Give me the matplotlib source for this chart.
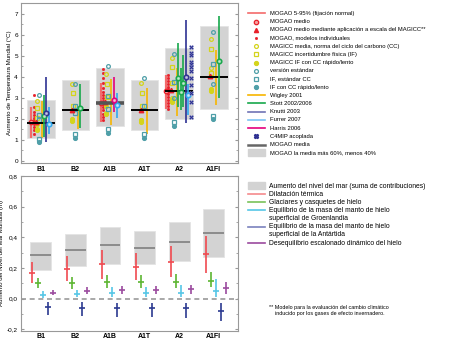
import numpy as np
import matplotlib
matplotlib.use("Agg")
import matplotlib.pyplot as plt
from matplotlib.ticker import MultipleLocator, FuncFormatter

plt.rcParams['font.family'] = ['Liberation Sans', 'DejaVu Sans']

# ---------------- datos: temperatura ----------------
scen = ['B1', 'B2', 'A1B', 'A1T', 'A2', 'A1FI']
box_lo = [1.1, 1.45, 1.65, 1.45, 2.0, 2.45]
box_hi = [2.9, 3.84, 4.4, 3.84, 5.35, 6.4]
mogao_mean = [1.8, 2.4, 2.75, 2.4, 3.35, 4.0]

mogao_lo = [1.1, np.nan, 1.85, np.nan, 2.45, np.nan]
mogao_hi = [2.55, np.nan, 3.7, np.nan, 4.1, np.nan]
mogao_medio = [1.83, np.nan, 2.76, np.nan, 3.33, np.nan]
mogao_magicc = [1.85, 2.44, 2.78, 2.44, 3.37, 4.03]
mogao_indiv = [
    [3.15, 2.55, 2.35, 2.2, 2.05, 1.95, 1.75, 1.6, 1.45, 1.3],
    [],
    [4.35, 4.2, 3.95, 3.7, 3.45, 3.3, 3.15, 3.0, 2.85, 2.7, 2.55, 2.4, 2.25, 2.1, 1.95],
    [],
    [4.1, 3.95, 3.8, 3.65, 3.5, 3.4, 3.2, 3.05, 2.9, 2.75, 2.6, 2.45],
    [],
]
magicc_cc = [[2.85, 1.5], [3.65, 1.97], [4.15, 2.3], [3.72, 1.95], [4.88, 3.0], [5.82, 4.4]]
magicc_if = [[2.5, 2.05], [3.22, 2.6], [3.68, 3.03], [3.25, 2.62], [4.47, 3.7], [5.33, 4.2]]
magicc_ifcc = [[1.75, 1.45], [2.0, 1.9], [2.6, 2.25], [1.95, 1.85], [2.92, 2.8], [3.43, 3.32]]
std_ver = [[3.15], [3.68], [4.5], [3.93], [5.1, 2.97], [6.14, 3.65]]
std_if = [[2.2, 1.97, 1.05], [2.6, 2.3, 1.3], [3.1, 2.45, 1.52], [2.6, 1.3], [3.75, 1.85], [4.6, 2.15]]
std_ifcc = [[0.88], [1.1], [1.33], [1.1], [1.65], [2.0]]

wig_lo = [1.1, 1.5, 1.7, 1.3, 2.15, 2.65]
wig_hi = [2.85, 2.6, 3.9, 3.45, 4.4, 5.27]
stott_scen = [0, 1, 4, 4, 4, 5]
stott_lo = [1.15, 1.55, 2.55, 2.4, 2.55, 2.97]
stott_hi = [3.15, 3.68, 5.6, 4.4, 5.05, 6.9]
stott_mid = [2.15, 2.54, 3.95, 3.26, 3.73, 4.76]
knutti_scen = [0, 4]
knutti_lo = [0.9, 1.78]
knutti_hi = [4.0, 6.7]
knutti_mid = [2.3, 4.0]
furrer_scen = [0, 2, 4]
furrer_lo = [1.3, 2.02, 2.2]
furrer_hi = [2.55, 3.24, 3.67]
furrer_mid = [1.75, 2.65, 3.12]
harris_scen = [2]
harris_lo = [2.33]
harris_hi = [3.97]
harris_mid = [2.89]
c4mip_a2 = [5.43, 5.15, 5.05, 4.7, 4.6, 4.45, 4.3, 3.95, 3.62, 3.25, 2.8, 2.1]

# ---------------- datos: nivel del mar ----------------
sl_lo = [0.19, 0.213, 0.228, 0.224, 0.246, 0.274]
sl_hi = [0.367, 0.42, 0.465, 0.443, 0.498, 0.583]
sl_med = [0.283, 0.315, 0.348, 0.333, 0.37, 0.426]
therm = [0.17, 0.196, 0.224, 0.209, 0.241, 0.289]
therm_lo = [0.10, 0.117, 0.13, 0.122, 0.143, 0.17]
therm_hi = [0.237, 0.28, 0.315, 0.296, 0.343, 0.409]
glac = [0.102, 0.104, 0.109, 0.111, 0.111, 0.117]
glac_lo = [0.067, 0.065, 0.072, 0.067, 0.072, 0.074]
glac_hi = [0.137, 0.141, 0.154, 0.154, 0.159, 0.172]
gris = [0.024, 0.03, 0.035, 0.035, 0.039, 0.05]
gris_lo = [0.007, 0.01, 0.009, 0.009, 0.009, 0.013]
gris_hi = [0.05, 0.055, 0.078, 0.078, 0.089, 0.126]
ant = [-0.054, -0.059, -0.063, -0.063, -0.063, -0.078]
ant_lo = [-0.107, -0.113, -0.122, -0.122, -0.128, -0.146]
ant_hi = [-0.024, -0.024, -0.026, -0.026, -0.026, -0.03]
dyn = [0.039, 0.05, 0.057, 0.059, 0.063, 0.072]
dyn_lo = [0.024, 0.028, 0.028, 0.028, 0.028, 0.033]
dyn_hi = [0.057, 0.074, 0.083, 0.083, 0.089, 0.111]

# ---------------- colores ----------------
RED_L = '#f36b6b'; RED = '#e8202a'
YEL = '#d4d41c'; TEAL = '#4f9fa8'
ORA = '#f7b500'; GRN = '#17a84b'; NAVY = '#2e3192'; LBLUE = '#2fa8f0'; MAG = '#e5007d'
GRAY = '#d3d3d3'; DGRAY = '#666666'
C_TH = '#f04a50'; C_GL = '#5cb531'; C_GR = '#55c6e6'; C_AN = '#2b3990'; C_DY = '#9b4a9e'

fig = plt.figure(figsize=(4.5, 3.4), dpi=100)
ax1 = fig.add_axes([20.7/450, 1-163/340, 217/450, (163-3.3)/340])
ax2 = fig.add_axes([20.7/450, 1-330.5/340, 217/450, (330.5-176)/340])
x = np.arange(len(scen))

# ---- panel superior ----
ax1.bar(x, np.array(box_hi)-np.array(box_lo), bottom=box_lo, width=0.8,
        color=GRAY, edgecolor='#e4e4e4', lw=0.6, zorder=1)
# desplazamiento de grupo (A2 tiene mas series)
sh = np.array([0, 0.03, 0, 0.03, -0.1, 0.03])
ms = 2.7
for i in range(len(scen)):
    xi = x[i] + sh[i]
    ax1.vlines(xi-0.27, mogao_lo[i], mogao_hi[i], color=RED_L, lw=1.6, zorder=3)
    ax1.plot([xi-0.21]*len(mogao_indiv[i]), mogao_indiv[i], ls='none', marker='s',
             ms=1.0, color=RED, zorder=4)
    ax1.plot(xi-0.14, mogao_magicc[i], ls='none', marker='^', ms=3.2, color=RED, zorder=5)
    ax1.plot(xi-0.27, mogao_medio[i], ls='none', marker='o', ms=3.2, mfc='#f7a0a0',
             mec=RED, mew=0.9, zorder=5)
    ax1.plot([xi-0.12]*len(magicc_cc[i]), magicc_cc[i], ls='none', marker='o', ms=ms,
             mfc='none', mec=YEL, mew=0.9, zorder=4)
    ax1.plot([xi-0.1]*len(magicc_if[i]), magicc_if[i], ls='none', marker='s', ms=ms,
             mfc='none', mec=YEL, mew=0.9, zorder=4)
    ax1.plot([xi-0.12]*len(magicc_ifcc[i]), magicc_ifcc[i], ls='none', marker='o', ms=ms,
             color=YEL, zorder=4)
    ax1.plot([xi-0.05]*len(std_ver[i]), std_ver[i], ls='none', marker='o', ms=ms,
             mfc='none', mec=TEAL, mew=0.9, zorder=4)
    ax1.plot([xi-0.05]*len(std_if[i]), std_if[i], ls='none', marker='s', ms=ms,
             mfc='none', mec=TEAL, mew=0.9, zorder=4)
    ax1.plot([xi-0.05]*len(std_ifcc[i]), std_ifcc[i], ls='none', marker='o', ms=ms,
             color=TEAL, zorder=4)
    ax1.vlines(xi+0.04, wig_lo[i], wig_hi[i], color=ORA, lw=1.2, zorder=3)

mean_col = ['k', 'k', '#555555', 'k', 'k', 'k']
mean_lw = [1.4, 1.4, 2.6, 1.4, 1.4, 1.4]
ax1.hlines(mogao_mean, x-0.4, x+0.4, colors=mean_col, lw=mean_lw, zorder=6)

def ranges(ax, sc, lo, hi, mid, offs, col):
    xs = x[sc] + sh[sc] + np.array(offs)
    ax.vlines(xs, lo, hi, color=col, lw=1.2, zorder=7)
    ax.plot(xs, mid, ls='none', marker='o', ms=3.4, mfc=col, mec=col, zorder=8)
    ax.plot(xs, mid, ls='none', marker='o', ms=1.3, color='#ffffff', alpha=0.5, zorder=9)

ranges(ax1, stott_scen, stott_lo, stott_hi, stott_mid, [0.08, 0.09, 0.07, 0.14, 0.22, 0.11], GRN)
ranges(ax1, knutti_scen, knutti_lo, knutti_hi, knutti_mid, [0.16, 0.3], NAVY)
ranges(ax1, furrer_scen, furrer_lo, furrer_hi, furrer_mid, [0.24, 0.19, 0.36], LBLUE)
ranges(ax1, harris_scen, harris_lo, harris_hi, harris_mid, [0.11], MAG)
ax1.plot([x[4]+sh[4]+0.43]*len(c4mip_a2), c4mip_a2, ls='none', marker='X', ms=3.2,
         color=NAVY, mec='#8890c8', mew=0.3, zorder=8)

ax1.set_xlim(-0.58, 5.69)
ax1.set_ylim(-0.1, 7.5)
ax1.yaxis.set_major_locator(MultipleLocator(1))
ax1.yaxis.set_minor_locator(MultipleLocator(0.5))
ax1.set_ylabel('Aumento de Temperatura Mundial (°C)', fontsize=4.4, labelpad=2)

# ---- panel inferior ----
ax2.bar(x, np.array(sl_hi)-np.array(sl_lo), bottom=sl_lo, width=0.6,
        color=GRAY, edgecolor='#e4e4e4', lw=0.6, zorder=1)
ax2.hlines(sl_med, x-0.3, x+0.3, color='#808080', lw=1.2, zorder=2)
ax2.axhline(0, color='#9a9a9a', ls=(0, (3, 2.2)), lw=1.2, zorder=2)

def contrib(val, lo, hi, off, col):
    xs = x + off
    ax2.vlines(xs, lo, hi, color=col, lw=1.2, zorder=4)
    ax2.plot(xs, val, ls='none', marker='_', ms=5, mew=1.2, color=col, zorder=5)

contrib(therm, therm_lo, therm_hi, -0.24, C_TH)
contrib(glac, glac_lo, glac_hi, -0.09, C_GL)
contrib(gris, gris_lo, gris_hi, 0.05, C_GR)
contrib(ant, ant_lo, ant_hi, 0.2, C_AN)
contrib(dyn, dyn_lo, dyn_hi, 0.34, C_DY)

ax2.set_xlim(-0.58, 5.69)
ax2.set_ylim(-0.207, 0.8)
ax2.yaxis.set_major_locator(MultipleLocator(0.2))
ax2.yaxis.set_minor_locator(MultipleLocator(0.1))
ax2.yaxis.set_major_formatter(FuncFormatter(lambda v, p: f'{v:.1f}'.replace('.', ',').replace('-0,0', '0,0')))
ax2.set_ylabel('Aumento del Nivel del Mar Mundial (m)', fontsize=4.4, labelpad=2)

for ax in (ax1, ax2):
    ax.set_xticks(x)
    ax.set_xticklabels(scen, fontsize=5, fontweight='bold')
    ax.tick_params(axis='x', length=0, pad=2)
    ax.tick_params(axis='y', which='both', direction='in', right=True, labelsize=4.6,
                   color='#999999', pad=2)
    ax.tick_params(axis='y', which='major', length=2.5)
    ax.tick_params(axis='y', which='minor', length=1.5)
    for s in ax.spines.values():
        s.set_color('#999999')
        s.set_linewidth(0.8)

# ---------------- leyendas (coordenadas en pixeles) ----------------
lg = fig.add_axes([0, 0, 1, 1], zorder=-1)
lg.set_xlim(0, 450); lg.set_ylim(340, 0); lg.axis('off')
fs = 4.2
rows1 = [
    ('line', RED_L, 'MOGAO 5-95% (fijación normal)'),
    ('medio', RED, 'MOGAO medio'),
    ('^', RED, 'MOGAO medio mediante aplicación a escala del MAGICC**'),
    ('dot', RED, 'MOGAO, modelos individuales'),
    ('oh', YEL, 'MAGICC media, norma del ciclo del carbono (CC)'),
    ('sh', YEL, 'MAGICC incertidumbre física (IF)'),
    ('of', YEL, 'MAGICC IF con CC rápido/lento'),
    ('oh', TEAL, 'versión estándar'),
    ('sh', TEAL, 'IF, estándar CC'),
    ('of', TEAL, 'IF con CC rápido/lento'),
    ('line', ORA, 'Wigley 2001'),
    ('line', GRN, 'Stott 2002/2006'),
    ('line', '#7073b5', 'Knutti 2003'),
    ('line', '#7cc4f4', 'Furrer 2007'),
    ('line', MAG, 'Harris 2006'),
    ('X', NAVY, 'C4MIP acoplada'),
    ('line', DGRAY, 'MOGAO media'),
    ('patch', GRAY, 'MOGAO la media más 60%, menos 40%'),
]
for k, (kind, col, txt) in enumerate(rows1):
    yy = 13.3 + k*8.2
    if kind == 'line':
        lg.plot([248, 265], [yy, yy], color=col, lw=1.2 if col != DGRAY else 1.8)
    elif kind == 'patch':
        lg.add_patch(plt.Rectangle((248, yy-3.5), 17, 7, color=col))
    elif kind == 'medio':
        lg.plot(256, yy, marker='o', ms=3.2, mfc='#f7a0a0', mec=col, mew=0.9)
    elif kind == 'dot':
        lg.plot(256, yy, marker='s', ms=1.0, color=col)
    elif kind == 'oh':
        lg.plot(256, yy, marker='o', ms=2.8, mfc='none', mec=col, mew=0.9)
    elif kind == 'sh':
        lg.plot(256, yy, marker='s', ms=2.8, mfc='none', mec=col, mew=0.9)
    elif kind == 'of':
        lg.plot(256, yy, marker='o', ms=2.8, color=col)
    else:
        lg.plot(256, yy, marker=kind, ms=3.0, color=col)
    lg.text(270, yy, txt, fontsize=fs, va='center', ha='left')

fs2 = 4.85
rows2 = [
    ('patch', GRAY, 'Aumento del nivel del mar (suma de contribuciones)', 185.7),
    ('line', '#f58a8c', 'Dilatación térmica', 193.7),
    ('line', '#79c25a', 'Glaciares y casquetes de hielo', 201.7),
    ('line', C_GR, 'Equilibrio de la masa del manto de hielo\nsuperficial de Groenlandia', 210.3),
    ('line', '#7a82bd', 'Equilibrio de la masa del manto de hielo\nsuperficial de la Antártida', 226.7),
    ('line', C_DY, 'Desequilibrio escalonado dinámico del hielo', 243),
]
for kind, col, txt, yy in rows2:
    if kind == 'patch':
        lg.add_patch(plt.Rectangle((248, yy-3.5), 17, 7, color=col))
    else:
        lg.plot([248, 265], [yy, yy], color=col, lw=1.2)
    lg.text(269, yy-3.2, txt, fontsize=fs2, va='top', ha='left', linespacing=1.12)

lg.text(269, 305, '** Modelo para la evaluación del cambio climático\n'
        '    inducido por los gases de efecto invernadero.', fontsize=3.85,
        va='top', ha='left', linespacing=1.25)

fig.savefig('out.png', dpi=100)
